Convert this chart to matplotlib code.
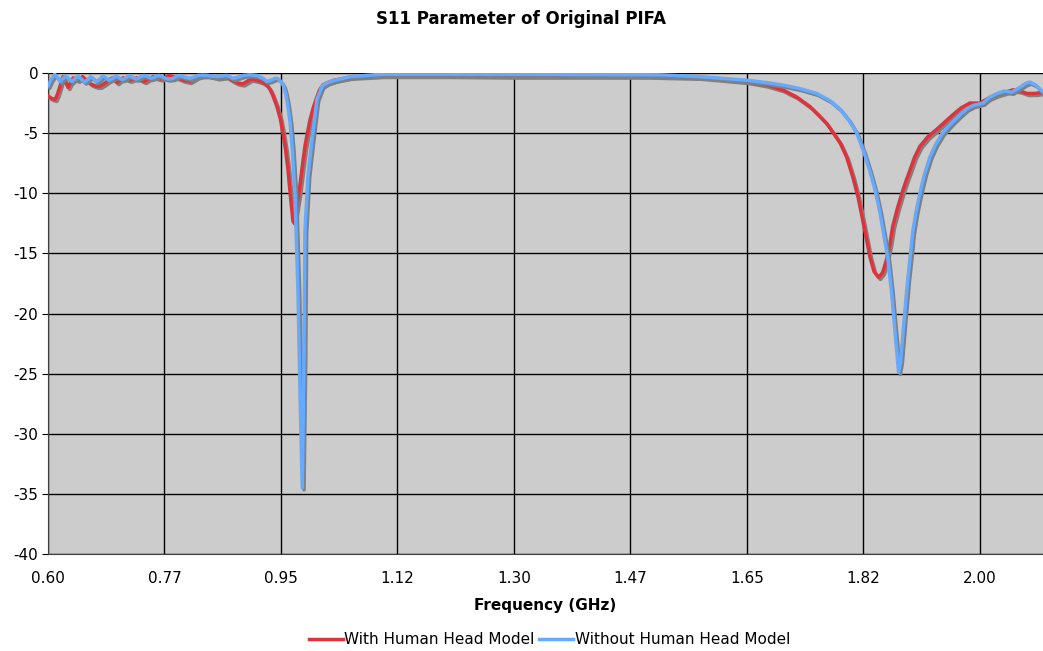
import matplotlib
matplotlib.use("Agg")
import matplotlib.pyplot as plt
import matplotlib.patheffects as pe
from matplotlib.lines import Line2D

# S11 readings (GHz, dB)
freq_head = [0.600, 0.605, 0.6105, 0.614, 0.618, 0.6205, 0.6225, 0.626, 0.630, 0.634,
             0.638, 0.645, 0.652, 0.656, 0.660, 0.664, 0.668, 0.673, 0.678, 0.684,
             0.689, 0.693, 0.697, 0.700, 0.704, 0.708, 0.713, 0.718, 0.723, 0.728,
             0.733, 0.739, 0.745, 0.751, 0.758, 0.764, 0.770, 0.776, 0.782, 0.788,
             0.795, 0.804, 0.813, 0.819, 0.825, 0.832, 0.840, 0.848, 0.855, 0.862,
             0.868, 0.874, 0.880, 0.886, 0.893, 0.899, 0.905, 0.910, 0.914, 0.922,
             0.929, 0.934, 0.938, 0.944, 0.949, 0.953, 0.957, 0.9605, 0.964, 0.968,
             0.970, 0.9735, 0.977, 0.9815, 0.986, 0.990, 0.9936, 0.999, 1.004, 1.008,
             1.013, 1.020, 1.030, 1.054, 1.103, 1.200, 1.300, 1.400, 1.500, 1.579,
             1.650, 1.680, 1.704, 1.725, 1.745, 1.758, 1.770, 1.780, 1.790, 1.800,
             1.809, 1.817, 1.824, 1.830, 1.835, 1.841, 1.848, 1.854, 1.860, 1.865,
             1.869, 1.876, 1.883, 1.889, 1.895, 1.902, 1.910, 1.922, 1.935, 1.947,
             1.959, 1.972, 1.985, 2.000, 2.013, 2.026, 2.038, 2.050, 2.061, 2.071,
             2.083, 2.095]
s11_head = [-1.9, -2.1, -2.2, -1.8, -1.1, -0.6, -0.3, -0.7, -1.2, -0.8,
            -0.4, -0.6, -0.3, -0.5, -0.7, -0.9, -1.0, -1.1, -1.1, -0.9,
            -0.7, -0.5, -0.4, -0.6, -0.8, -0.6, -0.4, -0.5, -0.6, -0.5,
            -0.4, -0.55, -0.7, -0.5, -0.3, -0.4, -0.5, -0.35, -0.2, -0.3,
            -0.4, -0.6, -0.7, -0.5, -0.3, -0.22, -0.2, -0.3, -0.4, -0.35,
            -0.3, -0.5, -0.7, -0.85, -0.9, -0.7, -0.5, -0.55, -0.6, -0.75,
            -1.0, -1.4, -1.9, -2.8, -3.8, -5.0, -6.4, -8.0, -10.1, -12.3,
            -12.5, -11.2, -10.0, -8.0, -6.1, -4.9, -3.9, -2.8, -2.0, -1.4,
            -1.0, -0.8, -0.6, -0.35, -0.2, -0.2, -0.25, -0.25, -0.25, -0.35,
            -0.7, -1.0, -1.4, -2.0, -2.8, -3.5, -4.2, -5.0, -5.8, -7.0,
            -8.6, -10.3, -12.2, -13.9, -15.3, -16.5, -17.0, -16.6, -15.5, -14.2,
            -12.8, -11.3, -10.0, -9.0, -8.1, -7.0, -6.1, -5.3, -4.7, -4.1,
            -3.5, -2.9, -2.5, -2.5, -2.1, -1.8, -1.6, -1.4, -1.5, -1.7,
            -1.7, -1.6]

freq_free = [0.600, 0.604, 0.610, 0.614, 0.618, 0.622, 0.626, 0.631, 0.636, 0.640,
             0.645, 0.650, 0.655, 0.660, 0.664, 0.668, 0.673, 0.678, 0.682, 0.687,
             0.692, 0.697, 0.702, 0.707, 0.712, 0.717, 0.722, 0.727, 0.733, 0.738,
             0.744, 0.750, 0.755, 0.760, 0.766, 0.771, 0.777, 0.782, 0.788, 0.793,
             0.798, 0.806, 0.813, 0.819, 0.825, 0.832, 0.840, 0.848, 0.855, 0.862,
             0.868, 0.873, 0.878, 0.885, 0.893, 0.903, 0.914, 0.922, 0.929, 0.935,
             0.941, 0.945, 0.948, 0.951, 0.954, 0.957, 0.960, 0.9635, 0.967, 0.971,
             0.9755, 0.9786, 0.982, 0.9846, 0.986, 0.9906, 0.9966, 1.004, 1.0116, 1.020,
             1.031, 1.054, 1.103, 1.200, 1.300, 1.400, 1.519, 1.579, 1.650, 1.680,
             1.704, 1.730, 1.755, 1.775, 1.790, 1.803, 1.815, 1.826, 1.835, 1.843,
             1.850, 1.856, 1.862, 1.867, 1.871, 1.875, 1.878, 1.881, 1.884, 1.888,
             1.892, 1.896, 1.899, 1.904, 1.910, 1.917, 1.925, 1.934, 1.944, 1.957,
             1.970, 1.980, 1.990, 2.005, 2.015, 2.026, 2.037, 2.048, 2.060, 2.068,
             2.075, 2.084, 2.095]
s11_free = [-1.1, -0.6, -0.1, -0.35, -0.7, -0.5, -0.25, -0.45, -0.7, -0.5,
            -0.25, -0.5, -0.75, -0.55, -0.3, -0.45, -0.7, -0.5, -0.25, -0.4,
            -0.6, -0.45, -0.25, -0.4, -0.55, -0.4, -0.2, -0.35, -0.5, -0.35,
            -0.2, -0.3, -0.45, -0.35, -0.2, -0.3, -0.45, -0.5, -0.45, -0.3,
            -0.2, -0.35, -0.45, -0.35, -0.2, -0.18, -0.2, -0.27, -0.3, -0.25,
            -0.2, -0.3, -0.45, -0.35, -0.2, -0.15, -0.2, -0.4, -0.7, -0.6,
            -0.45, -0.45, -0.6, -0.8, -1.1, -1.7, -2.6, -4.0, -6.3, -10.0,
            -18.0, -26.6, -34.5, -23.8, -13.2, -8.5, -5.6, -2.2, -1.1, -0.8,
            -0.6, -0.3, -0.1, -0.1, -0.1, -0.12, -0.15, -0.3, -0.6, -0.8,
            -1.0, -1.3, -1.7, -2.3, -3.0, -3.9, -5.0, -6.6, -8.2, -9.8,
            -11.6, -13.5, -15.5, -18.0, -20.5, -23.0, -24.9, -24.0, -22.0, -19.5,
            -17.0, -15.0, -13.3, -11.6, -10.0, -8.4, -7.0, -5.9, -5.0, -4.2,
            -3.5, -3.0, -2.7, -2.5, -2.0, -1.7, -1.5, -1.6, -1.2, -0.9,
            -0.75, -1.0, -1.6]

xticks = [0.600, 0.775, 0.950, 1.125, 1.300, 1.475, 1.650, 1.825, 2.000]
xtick_labels = ["0.60", "0.77", "0.95", "1.12", "1.30", "1.47", "1.65", "1.82", "2.00"]
yticks = list(range(0, -45, -5))

red = '#E0323A'
blue = '#66AAFF'

plt.rcParams['font.family'] = ['DejaVu Sans']
plt.rcParams['axes.unicode_minus'] = False

fig = plt.figure(figsize=(10.43, 6.51), dpi=100)
ax = fig.add_axes([48 / 1043, 97 / 651, 1 - 48 / 1043, 481 / 651])
ax.set_facecolor('#CCCCCC')

# Excel-like drop shadow under each curve
shadow = [pe.SimpleLineShadow(offset=(1.3, -1.5), shadow_color='#808080', alpha=1.0),
          pe.Normal()]
ax.plot(freq_head, s11_head, color=red, lw=2.5, path_effects=shadow,
        solid_joinstyle='round', solid_capstyle='round', zorder=3)
ax.plot(freq_free, s11_free, color=blue, lw=2.5, path_effects=shadow,
        solid_joinstyle='round', solid_capstyle='round', zorder=4)

ax.set_xlim(0.6, 2.095)
ax.set_ylim(-40, 0)
ax.set_xticks(xticks)
ax.set_xticklabels(xtick_labels)
ax.set_yticks(yticks)
ax.grid(True, color='black', lw=1.0)
ax.set_axisbelow(True)
ax.tick_params(axis='x', length=0, labelsize=11, pad=12)
ax.tick_params(axis='y', length=4, labelsize=11, pad=3)
for side in ['top', 'right']:
    ax.spines[side].set_visible(False)
ax.spines['left'].set_color('#404040')
ax.spines['bottom'].set_color('#404040')

ax.set_xlabel('Frequency (GHz)', fontsize=11, fontweight='bold', labelpad=9)
fig.suptitle('S11 Parameter of Original PIFA', fontsize=12, fontweight='bold', y=0.985)

handles = [Line2D([], [], color=red, lw=2.5), Line2D([], [], color=blue, lw=2.5)]
fig.legend(handles, ['With Human Head Model', 'Without Human Head Model'],
           loc='lower center', ncol=2, frameon=False, fontsize=11,
           bbox_to_anchor=(0.527, -0.015), handlelength=2.2, handletextpad=0.1,
           columnspacing=0.3)

fig.savefig('out.png', dpi=100)
